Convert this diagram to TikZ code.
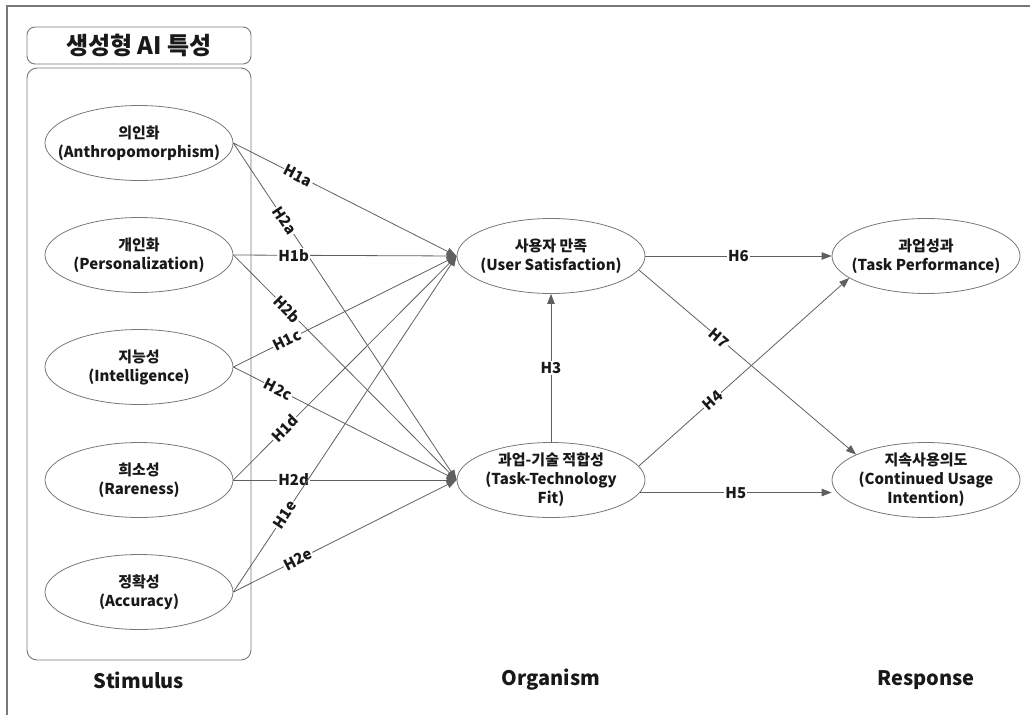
\documentclass[tikz,border=0pt]{standalone}
\usepackage{fontspec}
\setmainfont{Noto Sans CJK KR}
\definecolor{linegray}{RGB}{95, 95, 95}
\definecolor{framegray}{RGB}{120, 120, 120}
\definecolor{textdark}{RGB}{25, 25, 25}
\usetikzlibrary{shapes.geometric, arrows.meta, positioning, calc}

\begin{document}
\begin{tikzpicture}[x=1pt, y=-1pt,
    construct/.style={draw=framegray, line width=0.8pt, ellipse, minimum width=188pt, minimum height=75pt,
      inner xsep=-16pt, inner ysep=-3pt, align=center, text=textdark, font=\fontsize{15}{19}\selectfont\bfseries},
    hyp/.style={draw=linegray, line width=0.8pt, -{Triangle[length=10pt, width=7.5pt]}},
    hlabel/.style={fill=white, inner sep=1pt, text=textdark, font=\fontsize{15}{18}\selectfont\bfseries},
    stage/.style={text=textdark, font=\fontsize{20}{24}\selectfont\bfseries}]
  \useasboundingbox (0,0) rectangle (1030,715);

  % Page frame
  \draw[framegray, line width=1.2pt] (7,715) -- (7,6) -- (1030,6);

  % Stimulus block
  \node[draw=framegray, line width=0.9pt, rounded corners=8pt, minimum width=224pt, minimum height=37pt,
    text=textdark, font=\fontsize{24}{28}\selectfont\bfseries] (title) at (139,45.5) {생성형 AI 특성};
  \node[draw=framegray, line width=0.9pt, rounded corners=10pt, minimum width=224pt, minimum height=592pt] (stimbox) at (139,364) {};

  \node[construct] (anthro) at (139,143) {의인화\\(Anthropomorphism)};
  \node[construct] (person) at (139,255) {개인화\\(Personalization)};
  \node[construct] (intel) at (139,367) {지능성\\(Intelligence)};
  \node[construct] (rare) at (139,480) {희소성\\(Rareness)};
  \node[construct] (accur) at (139,592) {정확성\\(Accuracy)};

  % Organism and response
  \node[construct] (usersat) at (551,256) {사용자 만족\\(User Satisfaction)};
  \node[construct] (ttf) at (551,480) {과업-기술 적합성\\(Task-Technology\\Fit)};
  \node[construct] (taskperf) at (926,256) {과업성과\\(Task Performance)};
  \node[construct] (contuse) at (926,480) {지속사용의도\\(Continued Usage\\Intention)};

  % Stage names
  \node[stage] (stim) at (139,680) {Stimulus};
  \node[stage] (org) at (551,680) {Organism};
  \node[stage] (resp) at (926,680) {Response};

  % H1: stimulus -> user satisfaction, H2: stimulus -> task-technology fit
  \draw[hyp] (anthro.east) -- node[hlabel, sloped, pos=0.29] {H1a} (usersat.west);
  \draw[hyp] (anthro.east) -- node[hlabel, sloped, pos=0.23] {H2a} (ttf.west);
  \draw[hyp] (person.east) -- node[hlabel, sloped, pos=0.27] {H1b} (usersat.west);
  \draw[hyp] (person.east) -- node[hlabel, sloped, pos=0.24] {H2b} (ttf.west);
  \draw[hyp] (intel.east) -- node[hlabel, sloped, pos=0.24] {H1c} (usersat.west);
  \draw[hyp] (intel.east) -- node[hlabel, sloped, pos=0.20] {H2c} (ttf.west);
  \draw[hyp] (rare.east) -- node[hlabel, sloped, pos=0.23] {H1d} (usersat.west);
  \draw[hyp] (rare.east) -- node[hlabel, sloped, pos=0.27] {H2d} (ttf.west);
  \draw[hyp] (accur.east) -- node[hlabel, sloped, pos=0.23] {H1e} (usersat.west);
  \draw[hyp] (accur.east) -- node[hlabel, sloped, pos=0.29] {H2e} (ttf.west);

  % Organism paths
  \draw[hyp] (ttf.north) -- node[hlabel, pos=0.5] {H3} (usersat.south);
  \draw[hyp] (ttf.9) -- node[hlabel, sloped, pos=0.35] {H4} (taskperf.196);
  \draw[hyp] (ttf.-8) -- node[hlabel, pos=0.5] {H5} (ttf.-8 -| contuse.west);
  \draw[hyp] (usersat.east) -- node[hlabel, pos=0.5] {H6} (taskperf.west);
  \draw[hyp] (usersat.-9) -- node[hlabel, sloped, pos=0.37] {H7} (contuse.160);
\end{tikzpicture}
\end{document}
